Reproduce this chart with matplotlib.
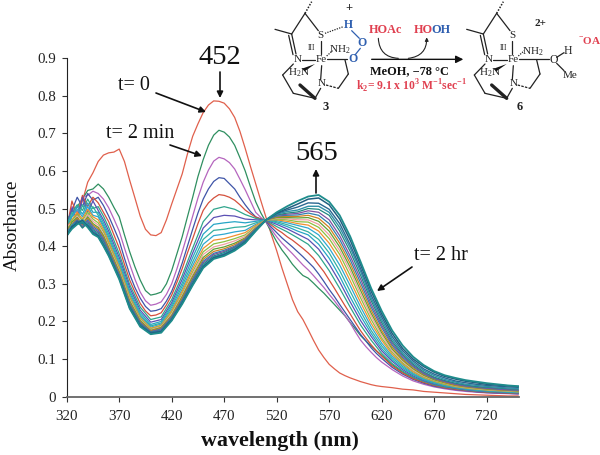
import matplotlib
matplotlib.use("Agg")
import matplotlib.pyplot as plt
from matplotlib.patches import FancyArrowPatch, Polygon

plt.rcParams['font.family'] = ['Liberation Serif', 'DejaVu Serif']
plt.rcParams['mathtext.fontset'] = 'custom'
plt.rcParams['mathtext.rm'] = 'Liberation Serif'
plt.rcParams['mathtext.bf'] = 'Liberation Serif:bold'

wavelength = [320, 325, 330, 335, 340, 345, 350, 355, 360, 370, 380, 390, 400, 410, 420, 430, 440, 450, 460,
              470, 480, 490, 500, 510, 520, 530, 540, 550, 560, 570, 580, 590, 600, 610, 620, 630, 640, 650,
              660, 670, 680, 690, 700, 710, 720, 730, 740, 750]
wavelength_fine = [320, 325, 330, 335, 340, 345, 350, 355, 360, 365, 370, 375, 380, 385, 390, 395, 400, 405, 410,
                   415, 420, 425, 430, 435, 440, 445, 450, 455, 460, 465, 470, 475, 480, 485, 490, 495, 500, 505,
                   510, 515, 520, 525, 530, 535, 540, 545, 550, 555, 560, 565, 570, 575, 580, 585, 590, 595, 600,
                   605, 610, 615, 620, 630, 640, 650, 660, 670, 680, 690, 700, 710, 720, 730, 740, 750]

# absorbance x 1000
t00 = [440,455,480,520,570,595,625,642,648,650,658,625,575,528,480,445,430,428,436,470,512,552,592,645,692,725,755,775,786,785,780,765,742,705,660,612,566,520,475,430,388,342,300,258,226,205,178,150,124,104,86,74,63,56,50,45,40,36,32,29,27,24,20,18,14,12,10,8,6,5,4,3,2,2]
t01 = [445,480,505,525,548,552,565,552,530,503,478,430,385,345,310,282,270,273,278,300,335,380,425,478,530,585,630,668,695,708,703,690,668,635,600,558,518,488,463,437,412,390,372,352,336,322,315,302,288,275,260,245,230,215,197,180,162,148,135,122,110,85,65,50,38,30,24,20,17,14,12,10,9,8]
t02 = [450,505,490,530,535,546,540,525,502,472,440,395,352,312,278,255,243,246,252,272,300,340,385,432,480,528,570,602,626,636,632,622,605,578,550,520,490,476,464,444,425,408,394,380,365,350,337,322,306,290,272,255,236,216,196,172,150,133,118,104,92,72,55,42,33,26,21,17,14,12,10,9,8,7]
t03 = [460,495,530,505,540,522,530,508,480,448,415,368,325,290,262,240,227,229,234,254,280,315,355,400,445,488,525,552,572,582,580,566,552,530,510,492,478,472,466,450,436,422,410,398,385,372,358,344,326,306,285,266,245,225,205,185,165,148,130,115,102,78,60,46,36,28,23,19,16,13,11,10,9,8]
t04 = [445,520,480,535,505,530,515,490,465,430,395,352,310,278,248,228,215,217,223,244,270,304,340,382,420,460,495,515,528,537,535,530,522,510,496,486,477,472,468,456,445,436,425,416,405,394,382,368,350,332,310,288,265,242,220,197,175,156,138,122,108,82,63,48,38,30,24,20,17,14,12,11,10,9]
t05 = [470,490,510,495,525,500,505,480,450,380,298,238,205,212,258,322,395,465,498,505,498,484,474,468,452,438,422,405,375,335,288,238,190,150,115,88,68,52,41,32,26,22,18,15,13,12,11,10]
t06 = [455,500,470,530,490,520,495,470,440,370,290,230,198,205,250,312,382,448,476,482,480,472,470,469,458,446,432,418,392,352,305,252,202,160,122,94,72,55,43,34,28,23,19,16,14,13,12,10]
t07 = [465,480,505,485,515,490,490,462,432,362,282,224,192,200,244,302,370,432,458,462,465,462,466,470,462,452,440,430,405,368,320,265,214,168,128,98,76,58,45,36,29,24,20,17,15,14,12,11]
t08 = [450,490,465,510,480,505,482,455,425,355,276,218,188,196,238,294,358,418,442,445,450,452,462,470,465,457,448,438,418,382,335,280,226,176,135,103,80,60,47,37,30,25,21,18,16,14,13,12]
t09 = [440,478,498,478,505,482,478,450,418,350,270,214,185,193,232,286,348,405,428,432,438,442,458,470,468,462,455,448,430,395,350,295,238,186,142,108,84,63,49,39,32,26,22,19,17,15,14,13]
t10 = [448,470,490,472,498,478,470,444,412,345,266,210,182,190,228,280,340,394,416,420,428,436,455,470,470,466,460,456,440,408,365,308,250,195,150,113,87,66,51,41,33,27,23,20,18,16,15,13]
t11 = [438,468,484,468,490,472,462,438,406,340,262,207,180,188,224,274,332,385,406,412,420,430,452,470,472,470,465,464,450,420,378,322,262,205,156,118,90,69,53,42,34,28,24,21,18,17,15,14]
t12 = [452,462,480,462,484,466,456,432,400,336,258,204,178,186,220,270,326,378,398,405,414,426,450,470,474,473,470,470,458,430,388,334,272,214,163,122,94,71,55,44,36,29,25,22,19,17,16,15]
t13 = [436,464,476,458,478,460,450,428,396,332,254,202,176,184,216,266,320,370,392,398,408,422,448,470,476,476,475,476,466,440,398,344,282,222,170,127,97,74,57,45,37,30,26,23,20,18,17,15]
t14 = [442,456,474,456,474,456,446,424,392,328,250,199,175,182,214,262,316,365,386,393,404,420,447,470,478,479,479,482,474,450,408,354,292,230,176,132,100,77,59,47,38,31,27,24,21,19,17,16]
t15 = [432,456,470,452,470,452,442,420,388,325,247,197,173,180,212,258,312,360,381,389,400,418,446,470,480,482,483,488,482,460,418,364,302,238,184,137,104,80,61,48,40,33,28,25,22,20,18,17]
t16 = [440,452,468,450,466,448,438,416,385,322,244,195,172,178,210,256,308,356,378,386,398,416,445,470,482,485,487,494,490,470,428,374,312,246,190,142,108,83,63,50,41,34,29,26,23,21,19,18]
t17 = [428,450,466,448,462,444,434,412,382,320,242,193,171,176,208,254,305,352,374,383,396,414,444,470,483,488,491,500,498,482,440,386,322,255,197,147,112,86,66,52,43,36,31,27,25,23,21,20]
t18 = [436,456,464,470,458,442,430,408,380,318,240,191,170,175,206,252,302,348,371,380,394,412,443,470,485,492,496,506,506,490,450,396,332,262,204,153,116,90,70,56,46,39,33,30,27,25,23,22]
t19 = [430,448,466,460,456,438,428,404,378,316,238,190,170,174,205,250,300,346,370,378,392,412,442,470,487,496,504,515,514,498,460,404,340,270,212,160,122,95,74,60,50,42,37,33,30,28,26,25]
t20 = [426,452,460,468,452,434,426,402,376,315,236,188,168,172,204,248,298,344,368,376,390,410,441,470,488,500,512,525,528,510,472,416,350,280,220,168,128,100,80,65,54,47,41,37,33,31,29,27]
t21 = [428,446,458,464,450,432,424,400,374,312,234,186,166,170,202,246,296,342,366,374,388,408,440,470,490,506,520,532,536,518,482,426,358,288,228,176,136,106,84,68,57,50,44,40,36,33,30,28]

series = [t00, t01, t02, t03, t04, t05, t06, t07, t08, t09, t10, t11, t12, t13, t14, t15, t16, t17, t18, t19, t20, t21]
colors = ['#E0604C', '#2F8F60', '#B565BE', '#3F55A8', '#D4503C', '#2FA58C', '#5B50B4', '#25A5C5',
          '#35B0A0', '#30A8D0', '#F09030', '#8CC040', '#F0A0A0', '#60A030', '#D08020', '#3080B0',
          '#8050A0', '#208880', '#3090A8', '#2A6890', '#1F5F80', '#1E8C8C']
widths = [0.9] * 18 + [1.0, 1.0, 1.1, 1.3]

x_ticks = [320, 370, 420, 470, 520, 570, 620, 670, 720]
y_ticks = [0, 0.1, 0.2, 0.3, 0.4, 0.5, 0.6, 0.7, 0.8, 0.9]
y_labels = ['0', '0.1', '0.2', '0.3', '0.4', '0.5', '0.6', '0.7', '0.8', '0.9']

fig = plt.figure(figsize=(6.0, 4.55), dpi=100)
W, H = 600.0, 455.0
ax = fig.add_axes([66.7 / W, 1 - 396.7 / H, (519 - 66.7) / W, (396.7 - 58) / H])
for s, c, lw in zip(series, colors, widths):
    xs = wavelength_fine if len(s) == len(wavelength_fine) else wavelength
    ax.plot(xs, [v / 1000 for v in s], color=c, lw=lw, solid_joinstyle='round')
ax.set_xlim(320, 750.8)
ax.set_ylim(0, 0.9)
ax.set_xticks(x_ticks)
ax.set_yticks(y_ticks)
ax.set_yticklabels(y_labels)
ax.tick_params(axis='both', labelsize=10.8, length=3.5, width=0.8, color='#333333', pad=4, labelcolor='#222222')
ax.tick_params(axis='x', pad=6)
for side in ('top', 'right'):
    ax.spines[side].set_visible(False)
ax.spines['left'].set_color('#222222')
ax.spines['bottom'].set_color('#666666')
ax.spines['bottom'].set_linewidth(1.3)

# overlay in pixel coordinates for the annotations and the reaction scheme
ov = fig.add_axes([0, 0, 1, 1], facecolor='none')
ov.set_xlim(0, W)
ov.set_ylim(H, 0)
ov.axis('off')

def txt(x, y, s, size, color='#111111', weight='normal', **kw):
    ov.text(x, y, s, fontsize=size, color=color, fontweight=weight, ha=kw.pop('ha', 'center'), va='center', **kw)

def arrow(a, b, lw=1.2, scale=9):
    ov.add_patch(FancyArrowPatch(a, b, arrowstyle='-|>', mutation_scale=scale, color='#111111', lw=lw, shrinkA=0, shrinkB=0))

txt(12.5, 225, 'Absorbance', 13.8, rotation=90)
txt(279.5, 441, 'wavelength (nm)', 15.8, weight='bold')
txt(220, 57, '452', 20.5)
txt(317, 154, '565', 20.5)
txt(134, 85, 't= 0', 14.5)
txt(140, 133, 't= 2 min', 14.5)
txt(441, 255, 't= 2 hr', 14.5)
arrow((156, 93), (206, 112))
arrow((220, 72), (220, 98))
arrow((170, 145), (202, 156))
arrow((316, 193), (316, 169))
arrow((412, 267), (377, 291))

# scheme: coordinates are in 3x zoom units, origin at (250, 0)
def P(p, dx=0):
    return (250 + (p[0] + dx) / 3, p[1] / 3)

def seg(a, b, dx=0, color='#222222', lw=0.9, **kw):
    pa, pb = P(a, dx), P(b, dx)
    ov.plot([pa[0], pb[0]], [pa[1], pb[1]], color=color, lw=lw, solid_capstyle='round', **kw)

def wedge(a, b, dx=0, w=1.3):
    pa, pb = P(a, dx), P(b, dx)
    ov.add_patch(Polygon([pa, (pb[0] - w, pb[1] - w), (pb[0] + w, pb[1] + w)], closed=True, color='#111111', lw=0))

def ztxt(p, s, size=8, color='#222222', weight='normal', dx=0, **kw):
    q = P(p, dx)
    txt(q[0], q[1], s, size, color=color, weight=weight, **kw)

for dx in (0, 575):
    seg((75, 88), (125, 102), dx)
    seg((125, 102), (165, 40), dx)
    wedge((165, 40), (140, 15), dx)
    seg((165, 40), (185, 5), dx, linestyle=(0, (1, 1)), lw=1.1)
    seg((165, 40), (205, 92), dx)
    seg((125, 102), (138, 162), dx)
    seg((116, 106), (129, 164), dx)
    seg((212, 122), (212, 162), dx)
    seg((215, 197), (212, 238), dx)
    seg((155, 180), (195, 180), dx)
    wedge((195, 192), (160, 210), dx)
    seg((230, 168), (248, 152), dx, linestyle=(0, (1, 1)))
    seg((130, 192), (98, 225), dx)
    seg((98, 225), (130, 280), dx)
    seg((130, 280), (195, 295), dx)
    seg((150, 255), (195, 295), dx, lw=2.4)
    seg((195, 295), (212, 265), dx)
    seg((228, 255), (265, 265), dx, linestyle=(0, (2, 1)))
    seg((265, 265), (295, 222), dx)
    seg((295, 222), (285, 180), dx)
    ztxt((212, 108), 'S', dx=dx)
    ztxt((215, 180), 'Fe', dx=dx)
    ztxt((142, 180), 'N', dx=dx)
    ztxt((215, 250), 'N', dx=dx)
    ztxt((146, 218), 'H$_2$N', dx=dx)
    ztxt((185, 143), 'III', size=5.5, dx=dx)

ztxt((268, 148), 'NH$_2$')
ztxt((848, 155), 'NH$_2$')
seg((232, 178), (292, 178))
seg((806, 178), (897, 178))
seg((305, 92), (328, 115), color='#3060B0')
seg((331, 145), (315, 165), color='#3060B0')
seg((225, 100), (280, 80), linestyle=(0, (1, 1)))
ztxt((295, 75), 'H', size=8.5, color='#3060B0', weight='bold')
ztxt((336, 128), 'O', size=8.5, color='#3060B0', weight='bold')
ztxt((308, 178), 'O', size=8.5, color='#3060B0', weight='bold')
ztxt((298, 25), '+', size=9, weight='bold')
ztxt((228, 322), '3', size=9, weight='bold')
ztxt((810, 322), '6', size=9, weight='bold')
ztxt((870, 70), '2+', size=8, weight='bold')
ztxt((910, 180), 'O', size=8.5)
ztxt((955, 152), 'H', size=8.5)
ztxt((960, 226), 'Me', size=8)
seg((920, 172), (942, 158))
seg((920, 190), (942, 212))
ztxt((1018, 124), '$^{-}$OA', size=8, color='#E04050', weight='bold')

ztxt((406, 90), 'HOAc', size=8.8, color='#E04050', weight='bold')
ztxt((519, 90), 'HO', size=8.8, color='#E04050', weight='bold')
ztxt((572, 90), 'OH', size=8.8, color='#2F5FB0', weight='bold')
ov.add_patch(FancyArrowPatch(P((365, 178)), P((640, 178)), arrowstyle='-|>', mutation_scale=11, color='#111111', lw=1, shrinkA=0, shrinkB=0))
ov.add_patch(FancyArrowPatch(P((385, 115)), P((445, 175)), connectionstyle='arc3,rad=0.45', arrowstyle='-', color='#222222', lw=0.8, shrinkA=0, shrinkB=0))
ov.add_patch(FancyArrowPatch(P((475, 175)), P((530, 112)), connectionstyle='arc3,rad=0.45', arrowstyle='-|>', mutation_scale=5, color='#222222', lw=0.8, shrinkA=0, shrinkB=0))
ztxt((480, 212), 'MeOH, \u221278 \u00b0C', size=8.9, color='#111111', weight='bold')
ztxt((485, 260), r'k$_{\mathbf{2}}$= 9.1 x 10$^{\mathbf{3}}$ M$^{\mathbf{-1}}$sec$^{\mathbf{-1}}$', size=8.4, color='#E04050', weight='bold')

fig.savefig('out.png', dpi=100)
